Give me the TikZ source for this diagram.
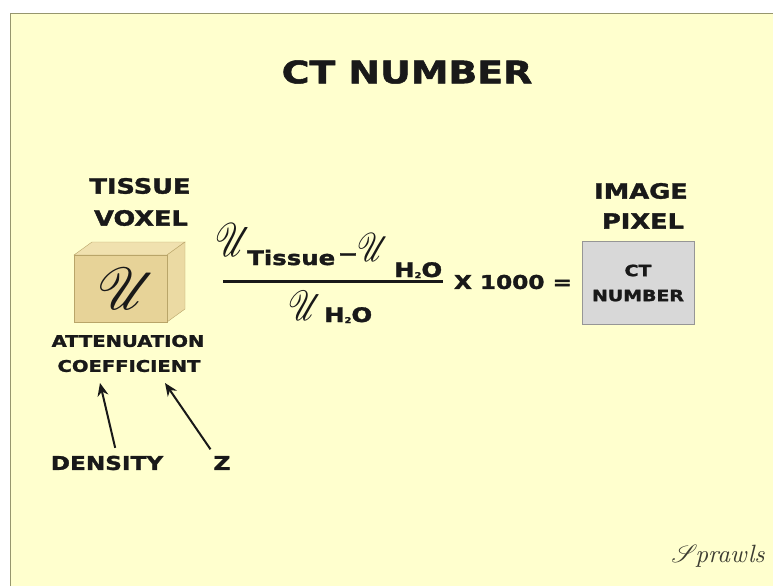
\documentclass[tikz,border=0pt]{standalone}
\usepackage{fontspec}
\setsansfont{DejaVu Sans}[BoldFeatures={FakeBold=1.5}]
\usepackage{mathrsfs}
\usetikzlibrary{arrows.meta}
\definecolor{slide}{RGB}{255,255,206}
\definecolor{frameline}{RGB}{150,150,110}
\definecolor{boxfront}{RGB}{231,211,152}
\definecolor{boxtop}{RGB}{240,225,175}
\definecolor{boxside}{RGB}{235,218,163}
\definecolor{boxedge}{RGB}{185,165,105}
\definecolor{pixgray}{RGB}{216,216,216}
\definecolor{pixedge}{RGB}{150,150,150}
\definecolor{ink}{RGB}{25,25,25}
\newcommand{\setsz}[1]{\fontsize{#1}{#1}\selectfont}
\tikzset{
  heavy/.style={inner sep=0pt, text=ink, xscale=1.22, font=\sffamily\bfseries},
  scr/.style={inner sep=0pt, text=ink, font=\setsz{10}},
  pointer/.style={-{Stealth[length=13pt,width=11pt]}, line width=2pt, draw=ink},
  ctbox/.style={draw=pixedge, fill=pixgray, xscale=1.22, minimum width=91.8pt, minimum height=83pt, align=center, text=ink, font=\sffamily\bfseries\fontsize{15.5}{25}\selectfont}
}
\begin{document}
\begin{tikzpicture}[x=1pt,y=-1pt]
        \useasboundingbox (0,0) rectangle (773,586);
        % slide
        \fill [white] (0,0) rectangle (773,586);
        \fill [slide] (10,13) rectangle (773,586);
        \draw [frameline] (10,586) -- (10,13) -- (773,13);
        % title
        \node [heavy, font=\sffamily\bfseries\setsz{31}] (title) at (407,72) {CT NUMBER};
        % voxel
        \node [heavy, font=\sffamily\bfseries\setsz{21}] (tissue) at (140,186) {TISSUE};
        \node [heavy, font=\sffamily\bfseries\setsz{21}] (voxel) at (141,218) {VOXEL};
        \fill [boxtop, draw=boxedge] (74,255) -- (92,242) -- (185,242) -- (167,255) -- cycle;
        \fill [boxside, draw=boxedge] (167,255) -- (185,242) -- (185,309) -- (167,322) -- cycle;
        \fill [boxfront, draw=boxedge] (74,255) rectangle (167,322);
        \node [scr, xscale=5.6, yscale=5.9] (mucube) at (127,289) {$\mathscr{U}$};
        \node [heavy, font=\sffamily\bfseries\setsz{16}] (attn) at (128,341) {ATTENUATION};
        \node [heavy, font=\sffamily\bfseries\setsz{16}] (coeff) at (129,366) {COEFFICIENT};
        % causes
        \node [heavy, font=\sffamily\bfseries\setsz{19}] (density) at (107,463) {DENSITY};
        \node [heavy, font=\sffamily\bfseries\setsz{19}] (zlab) at (222,463) {Z};
        \coordinate (dtip) at (100,383);
        \coordinate (ztip) at (165,383);
        \draw [pointer, shorten <=8pt] ([xshift=10pt]density.north) -- (dtip);
        \draw [pointer, shorten <=8pt] ([xshift=-7pt]zlab.north) -- (ztip);
        % fraction
        \node [scr, xscale=3.4, yscale=4.7] (mutis) at (233,240) {$\mathscr{U}$};
        \node [heavy, font=\sffamily\bfseries\setsz{20}, anchor=base west] (tis) at (247,265) {Tissue};
        \node [heavy, font=\sffamily\bfseries\setsz{20}] (minus) at (348,257) {−};
        \node [scr, xscale=3.0, yscale=4.0] (muwat) at (373,247) {$\mathscr{U}$};
        \node [heavy, font=\sffamily\bfseries\setsz{20}, anchor=base west] (wat) at (394,277) {H\raisebox{-1pt}{\setsz{8}2}O};
        \draw [ink, line width=3pt] (223,281.5) -- (443,281.5);
        \node [scr, xscale=3.2, yscale=4.2] (muden) at (305,306) {$\mathscr{U}$};
        \node [heavy, font=\sffamily\bfseries\setsz{20}, anchor=base west] (watden) at (324,322) {H\raisebox{-1pt}{\setsz{8}2}O};
        \node [heavy, font=\sffamily\bfseries\setsz{19}] (times) at (513,282) {X 1000 =};
        % pixel
        \node [heavy, font=\sffamily\bfseries\setsz{21}] (image) at (641,191) {IMAGE};
        \node [heavy, font=\sffamily\bfseries\setsz{21}] (pixel) at (643,221) {PIXEL};
        \node [ctbox] (ctnum) at (638,283) {CT\\NUMBER};
        % signature
        \node [scr, text={rgb,255:red,60;green,60;blue,50}, scale=2.5] (sig) at (718,556) {$\mathscr{S}$\kern-1pt\itshape prawls};
    \end{tikzpicture}
\end{document}
